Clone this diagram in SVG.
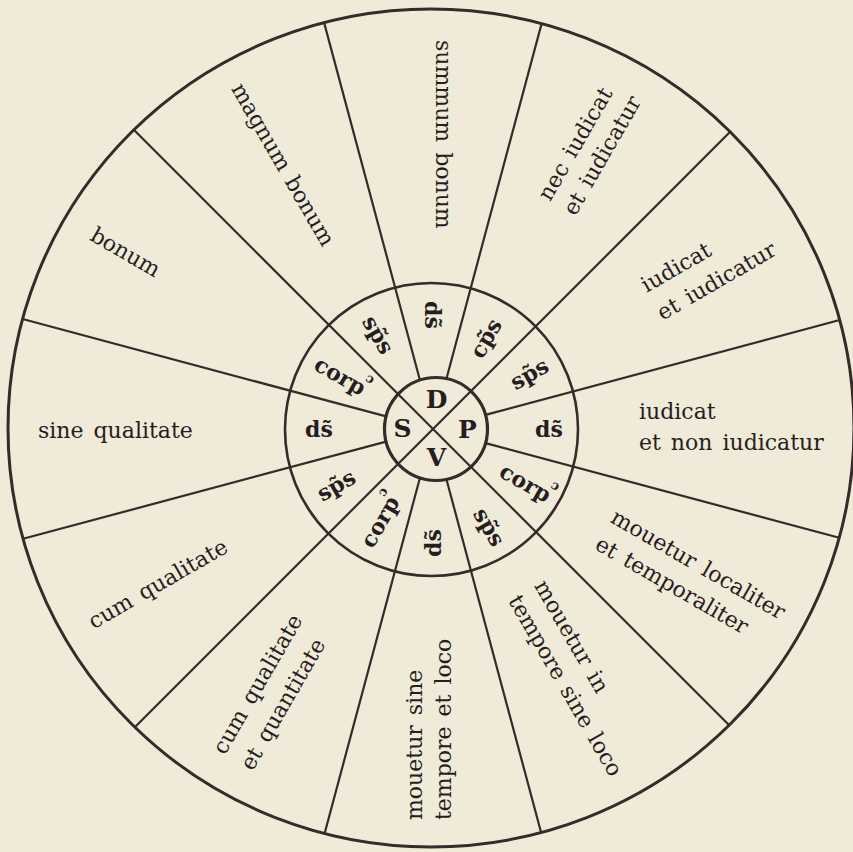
<svg xmlns="http://www.w3.org/2000/svg" width="853" height="852" viewBox="0 0 853 852">
<style>
.ln{stroke:#362a2a;fill:none;stroke-linecap:round}
.sp{stroke-width:2.2}
.lbl{font-family:"DejaVu Serif","Liberation Serif",serif;font-size:22px;fill:#261e1e;word-spacing:3px}
.ab{font-family:"DejaVu Serif","Liberation Serif",serif;font-size:22px;font-weight:bold;fill:#261e1e;text-anchor:middle;dominant-baseline:central}
.ctr{font-family:"DejaVu Serif","Liberation Serif",serif;font-size:25px;font-weight:bold;fill:#261e1e;text-anchor:middle}
.mk{font-size:13px}
</style>
<rect width="853" height="852" fill="#f0ead9"/>
<g id="rings">
<ellipse class="ln" cx="431" cy="428" rx="423" ry="419" stroke-width="3"/>
<circle class="ln" cx="431.5" cy="429.5" r="146.5" stroke-width="2.6"/>
<circle class="ln" cx="436" cy="429" r="51.5" stroke-width="3.2"/>
</g>
<g id="connectors">
<line class="ln sp" x1="133.8" y1="129.8" x2="729.2" y2="725.2"/>
<line class="ln sp" x1="134.8" y1="727.2" x2="730.2" y2="131.8"/>
<line class="ln sp" x1="485.5" y1="443.1" x2="839.2" y2="537.8"/>
<line class="ln sp" x1="446.5" y1="479.5" x2="541.1" y2="832.5"/>
<line class="ln sp" x1="419.9" y1="478" x2="324.6" y2="833.5"/>
<line class="ln sp" x1="386.1" y1="441.6" x2="23.1" y2="538.8"/>
<line class="ln sp" x1="386.1" y1="416.4" x2="22.6" y2="319"/>
<line class="ln sp" x1="419.9" y1="380" x2="324.1" y2="22.6"/>
<line class="ln sp" x1="446.5" y1="378.5" x2="541.6" y2="23.6"/>
<line class="ln sp" x1="485.5" y1="414.9" x2="839.7" y2="320"/>
</g>
<g id="center">
<text class="ctr" x="436.5" y="407.5">D</text>
<text class="ctr" x="467.5" y="438">P</text>
<text class="ctr" x="436.5" y="466">V</text>
<text class="ctr" x="402.5" y="436.5">S</text>
</g>
<g id="inner-ring">
<g id="a270" transform="translate(433 429) rotate(90)"><text class="ab" x="-114" y="0">ds̃</text></g>
<g id="a300" transform="translate(433 429) rotate(-60)"><text class="ab" x="105" y="0">cp̃s</text></g>
<g id="a330" transform="translate(433 429) rotate(-30)"><text class="ab" x="111" y="0">sp̃s</text></g>
<g id="a0" transform="translate(433 429)"><text class="ab" x="116" y="0">ds̃</text></g>
<g id="a30" transform="translate(433 429) rotate(30)"><text class="ab" x="109" y="0">corp<tspan class="mk" dx="-4" dy="-13">ɔ</tspan></text></g>
<g id="a60" transform="translate(433 429) rotate(60)"><text class="ab" x="113" y="0">sp̃s</text></g>
<g id="a90" transform="translate(433 429) rotate(-90)"><text class="ab" x="-114" y="0">ds̃</text></g>
<g id="a120" transform="translate(433 429) rotate(-60)"><text class="ab" x="-105" y="0">corp<tspan class="mk" dx="-4" dy="-13">ɔ</tspan></text></g>
<g id="a150" transform="translate(433 429) rotate(-30)"><text class="ab" x="-112" y="0">sp̃s</text></g>
<g id="a180" transform="translate(433 429)"><text class="ab" x="-114" y="0">ds̃</text></g>
<g id="a210" transform="translate(433 429) rotate(30)"><text class="ab" x="-105" y="0">corp<tspan class="mk" dx="-4" dy="-13">ɔ</tspan></text></g>
<g id="a240" transform="translate(433 429) rotate(60)"><text class="ab" x="-109" y="0">sp̃s</text></g>
</g>
<g id="outer-ring">
<g id="summum-bonum" transform="translate(433 429) rotate(90)"><text class="lbl" x="-389" y="-3">summum bonum</text></g>
<g id="magnum-bonum" transform="translate(433 429) rotate(60)"><text class="lbl" x="-396" y="5">magnum bonum</text></g>
<g id="bonum" transform="translate(433 429) rotate(30)"><text class="lbl" x="-393" y="8">bonum</text></g>
<g id="sine-qualitate" transform="translate(433 429)"><text class="lbl" x="-395" y="9">sine qualitate</text></g>
<g id="cum-qualitate" transform="translate(433 429) rotate(-30)"><text class="lbl" x="-394" y="4">cum qualitate</text></g>
<g id="cum-qual-quant" transform="translate(433 429) rotate(-60)"><text class="lbl" x="-387" y="-17">cum qualitate</text><text class="lbl" x="-387" y="15">et quantitate</text></g>
<g id="mouetur-sine" transform="translate(433 429) rotate(-90)"><text class="lbl" x="-391" y="-11">mouetur sine</text><text class="lbl" x="-391" y="18">tempore et loco</text></g>
<g id="mouetur-in" transform="translate(433 429) rotate(60)"><text class="lbl" x="186" y="-9">mouetur in</text><text class="lbl" x="186" y="21">tempore sine loco</text></g>
<g id="mouetur-localiter" transform="translate(433 429) rotate(30)"><text class="lbl" x="199" y="-8">mouetur localiter</text><text class="lbl" x="199" y="23">et temporaliter</text></g>
<g id="iudicat-non" transform="translate(433 429)"><text class="lbl" x="206" y="-10">iudicat</text><text class="lbl" x="206" y="21">et non iudicatur</text></g>
<g id="iudicat-et" transform="translate(433 429) rotate(-30)"><text class="lbl" x="253" y="-11">iudicat</text><text class="lbl" x="253" y="21">et iudicatur</text></g>
<g id="nec-iudicat" transform="translate(433 429) rotate(-60)"><text class="lbl" x="255" y="-12">nec iudicat</text><text class="lbl" x="255" y="17">et iudicatur</text></g>
</g>
</svg>
